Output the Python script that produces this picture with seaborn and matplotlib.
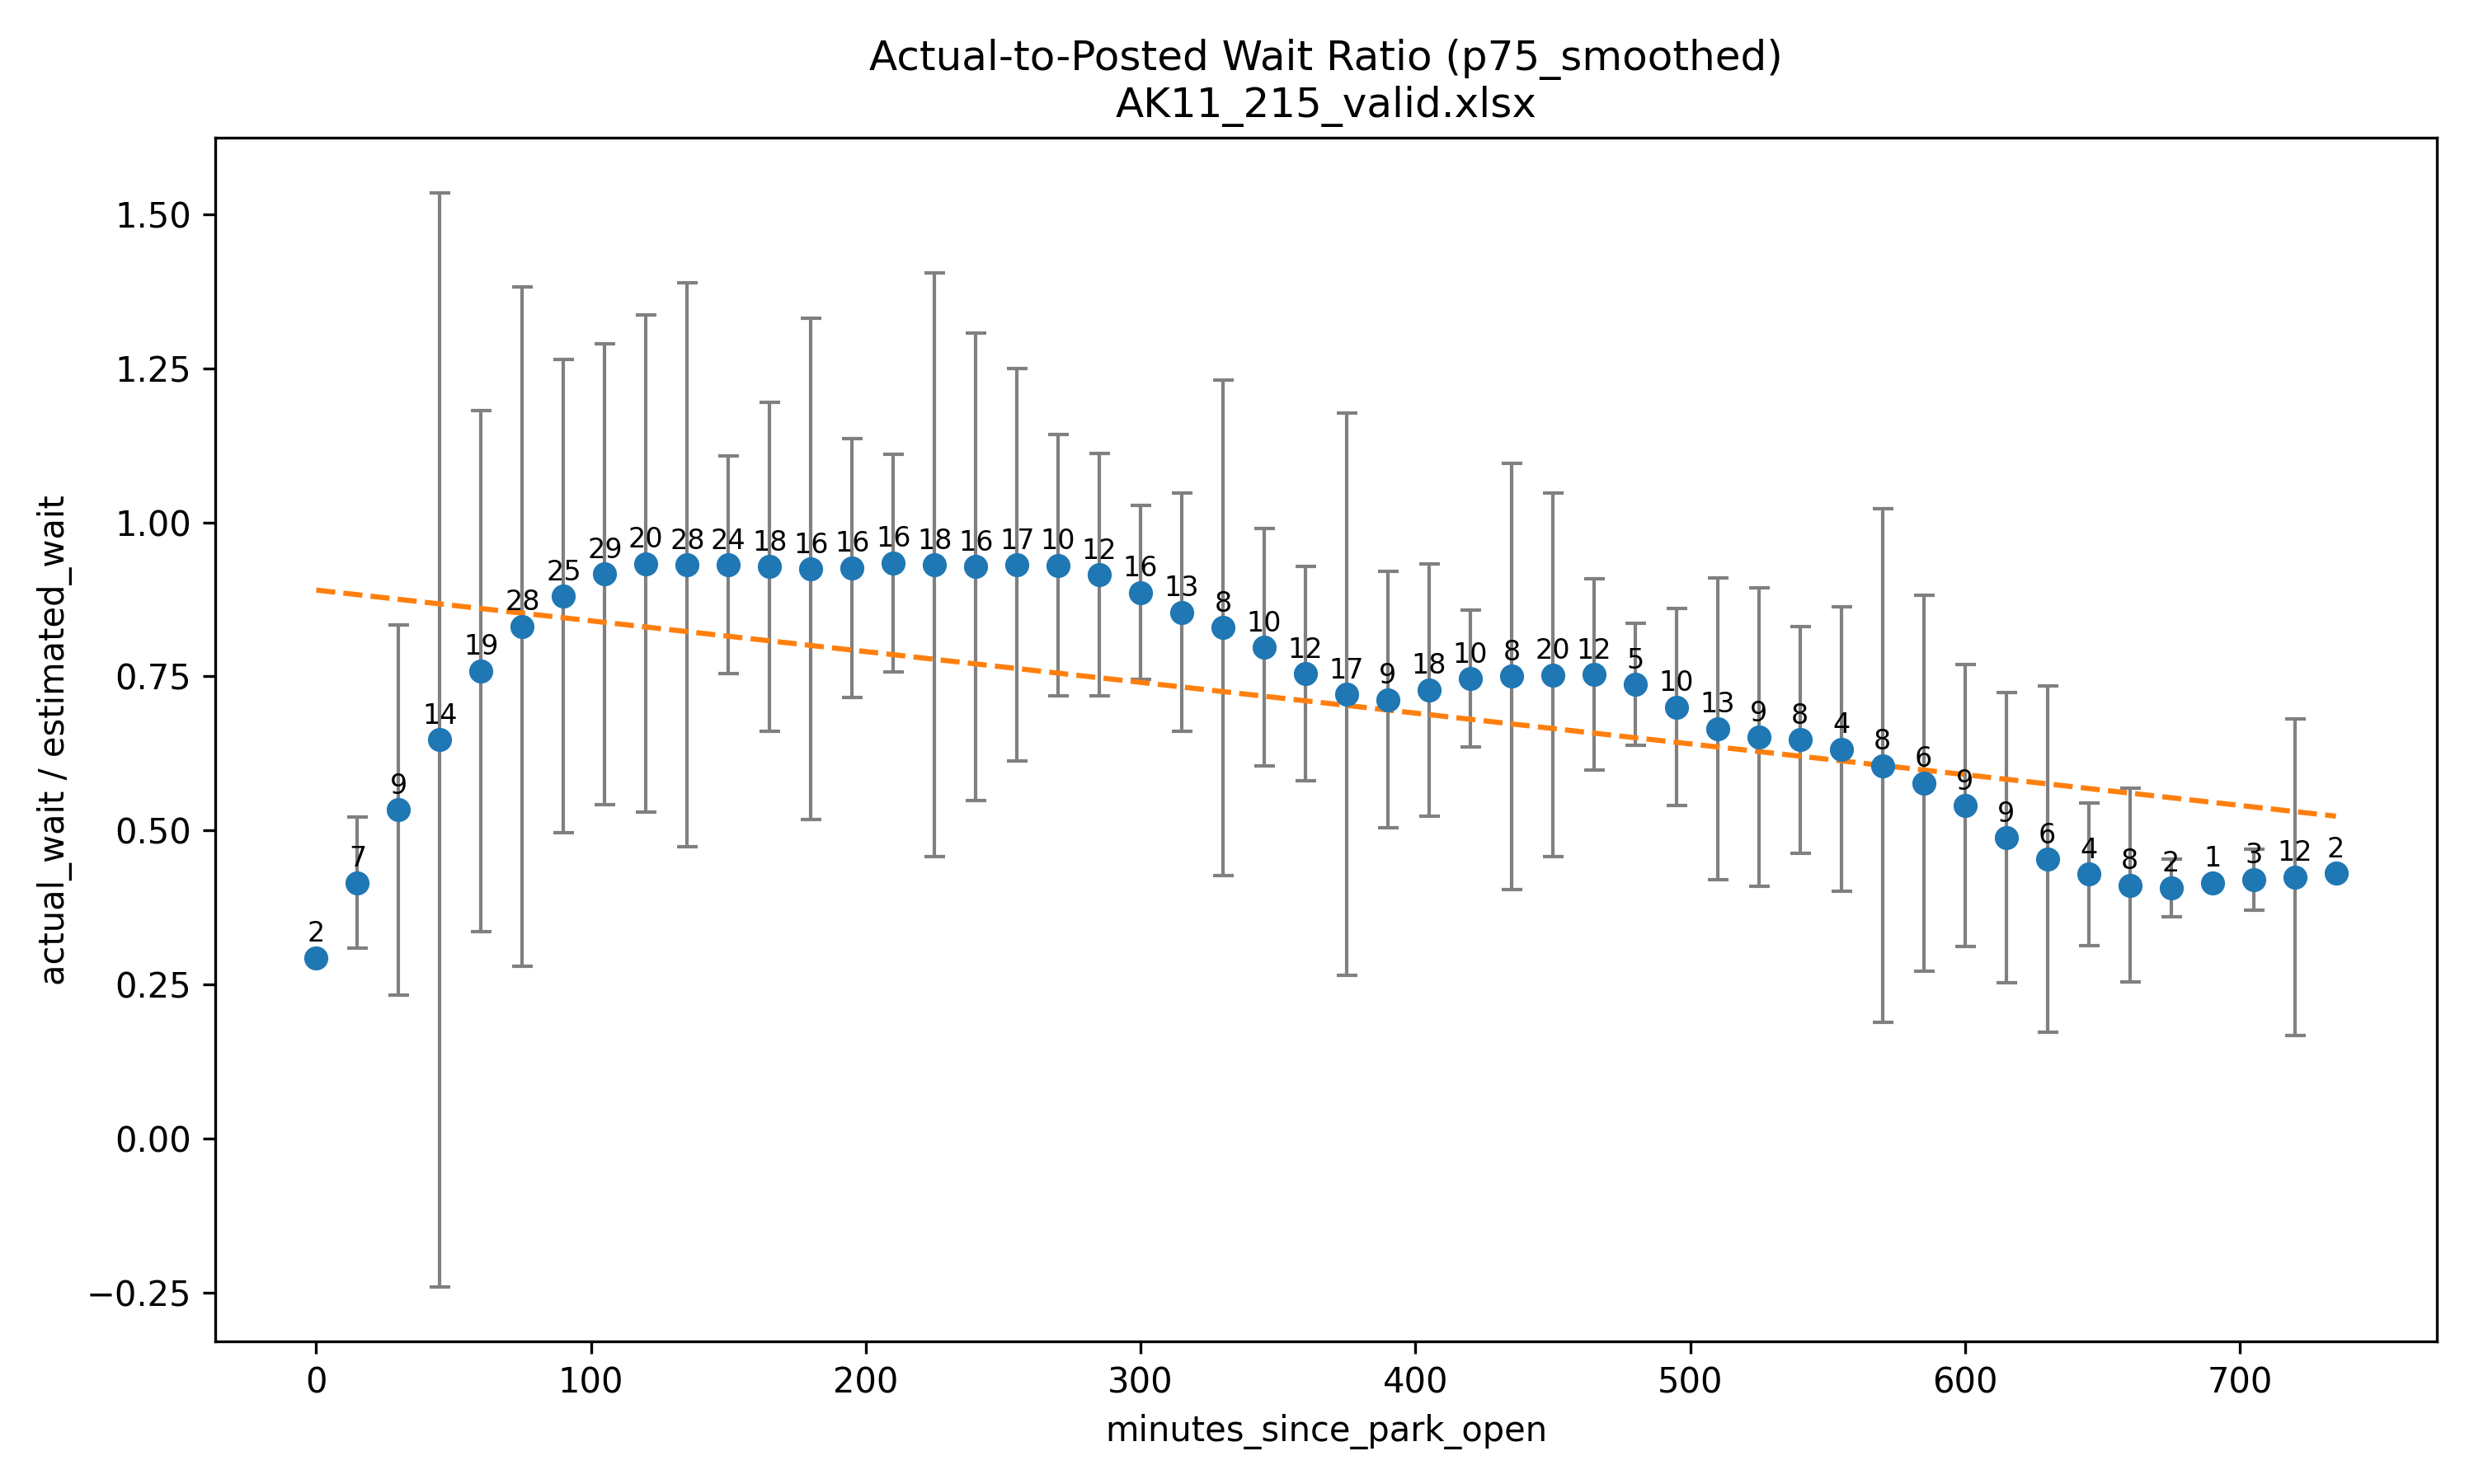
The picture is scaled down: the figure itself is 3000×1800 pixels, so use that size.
# actual-to-posted wait ratio by minutes since park open

import numpy as np
import matplotlib
matplotlib.use('Agg')
import matplotlib.pyplot as plt
import seaborn as sns

############################
# DATA
############################

minutes = [0, 15, 30, 45, 60, 75, 90, 105, 120, 135,
           150, 165, 180, 195, 210, 225, 240, 255, 270, 285,
           300, 315, 330, 345, 360, 375, 390, 405, 420, 435,
           450, 465, 480, 495, 510, 525, 540, 555, 570, 585,
           600, 615, 630, 645, 660, 675, 690, 705, 720, 735]

ratio_mean = [0.293, 0.415, 0.533, 0.647, 0.759, 0.831, 0.880, 0.916, 0.933, 0.931,
              0.931, 0.928, 0.924, 0.926, 0.934, 0.931, 0.928, 0.931, 0.930, 0.915,
              0.886, 0.854, 0.829, 0.797, 0.754, 0.721, 0.712, 0.728, 0.746, 0.750,
              0.752, 0.753, 0.737, 0.700, 0.665, 0.651, 0.647, 0.632, 0.605, 0.577,
              0.540, 0.488, 0.453, 0.429, 0.411, 0.407, 0.415, 0.420, 0.424, 0.430]

ratio_std = [np.nan, 0.106, 0.300, 0.888, 0.423, 0.551, 0.384, 0.374, 0.404, 0.458,
             0.177, 0.267, 0.407, 0.210, 0.177, 0.474, 0.379, 0.318, 0.212, 0.197,
             0.141, 0.193, 0.402, 0.193, 0.174, 0.457, 0.208, 0.205, 0.111, 0.346,
             0.295, 0.155, 0.099, 0.160, 0.245, 0.242, 0.184, 0.231, 0.417, 0.305,
             0.229, 0.236, 0.281, 0.116, 0.157, 0.047, np.nan, 0.050, 0.257, np.nan]

counts = [2, 7, 9, 14, 19, 28, 25, 29, 20, 28,
          24, 18, 16, 16, 16, 18, 16, 17, 10, 12,
          16, 13, 8, 10, 12, 17, 9, 18, 10, 8,
          20, 12, 5, 10, 13, 9, 8, 4, 8, 6,
          9, 9, 6, 4, 8, 2, 1, 3, 12, 2]

# trend line ends
trend_x = [0, 735]
trend_y = [0.890, 0.523]

############################
# PLOT
############################

fig, ax = plt.subplots(figsize=(10, 6), dpi=300)

# error bars (std)
ax.errorbar(minutes, ratio_mean, yerr=ratio_std, fmt='none',
            ecolor='gray', elinewidth=1, capsize=3, zorder=2)

# trend
sns.lineplot(x=trend_x, y=trend_y, ax=ax, color='tab:orange',
             linestyle='--', linewidth=1.5, zorder=2.5)

# means
sns.scatterplot(x=minutes, y=ratio_mean, ax=ax, color='tab:blue',
                s=36, linewidth=1, edgecolor='tab:blue', zorder=3)

# sample counts
for x, y, n in zip(minutes, ratio_mean, counts):
    ax.annotate(str(n), (x, y), xytext=(0, 3), textcoords='offset points',
                ha='center', va='bottom', fontsize=8)

ax.set_title('Actual-to-Posted Wait Ratio (p75_smoothed)\nAK11_215_valid.xlsx')
ax.set_xlabel('minutes_since_park_open')
ax.set_ylabel('actual_wait / estimated_wait')

plt.subplots_adjust(left=0.087, right=0.985, bottom=0.096, top=0.907)
plt.savefig('out.png', dpi=300)
